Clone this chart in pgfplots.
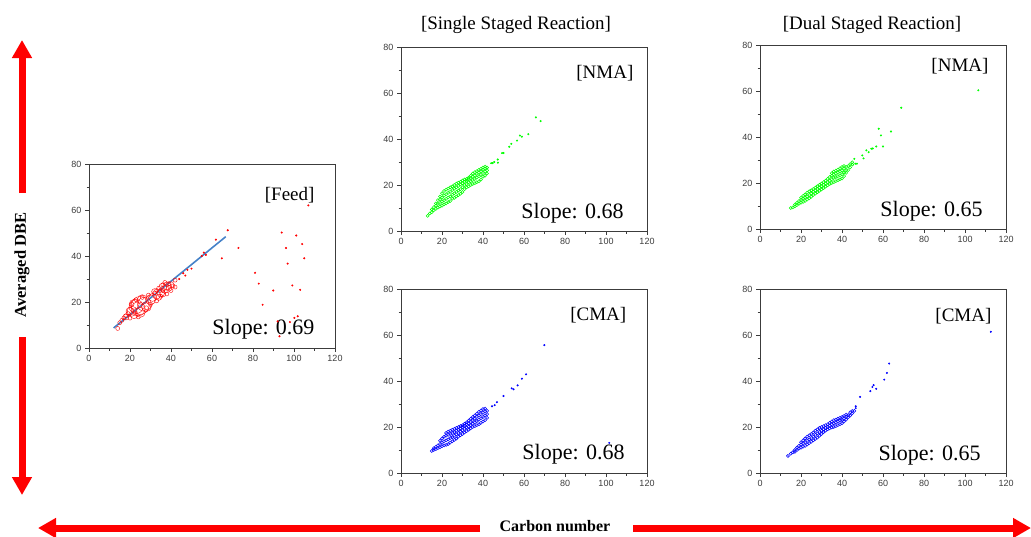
\documentclass[border=0pt]{standalone}
\usepackage{fontspec}
\setmainfont{Liberation Serif}
\newfontfamily\ticksf{Liberation Sans}
\usepackage{pgfplots}
\pgfplotsset{compat=1.18}
\usetikzlibrary{arrows.meta}

\definecolor{ngreen}{RGB}{0,255,0}
\definecolor{nblue}{RGB}{0,0,255}
\definecolor{fitblue}{RGB}{70,130,200}
\definecolor{axgray}{RGB}{60,60,60}

\pgfplotsset{
  panel/.style={
    width=246pt, height=184pt, scale only axis,
    xmin=0, xmax=120, ymin=0, ymax=80,
    xtick={0,20,...,120}, ytick={0,20,...,80},
    minor x tick num=1, minor y tick num=1,
    tick align=outside, xtick pos=left, ytick pos=left,
    major tick length=4pt, minor tick length=2.5pt,
    axis line style={axgray, line width=0.7pt},
    tick style={axgray, line width=0.5pt},
    ticklabel style={font=\ticksf\fontsize{9}{10}\selectfont, text=axgray},
    /pgf/number format/assume math mode=true,
  },
  band/.style={only marks, mark=o, mark size=1.5pt, mark options={line width=0.55pt}},
  tail/.style={only marks, mark=*, mark size=0.8pt},
  ring/.style={only marks, mark=o, red, mark size=#1, mark options={line width=0.4pt}},
}
\newcommand{\tag}[1]{{\fontsize{19}{20}\selectfont #1}}
\newcommand{\slope}[1]{{\fontsize{22}{24}\selectfont Slope: #1}}

\begin{document}
\begin{tikzpicture}
\useasboundingbox (0,0) rectangle (1031pt,-536pt);

% Feed
\begin{axis}[panel, at={(89pt,-348pt)}, anchor=south west]
\addplot[ring=9pt] coordinates {(25,18.5)};
\addplot[ring=7pt] coordinates {(23,18)(27,19)(24,17)};
\addplot[ring=5pt] coordinates {(21,16)(22,19)(26,21)(28,18)(30,21)(25,15.5)};
\addplot[ring=4pt] coordinates {(20,16)(22,14.5)(31,22)(33,23)(35,24)(37,25.5)(38,27)(36,26.5)};
\addplot[ring=3pt] coordinates {(34,22)(36,23.5)(39,26)(40,27.5)(32,24.5)(18,13.5)};
\addplot[ring=2pt]
  coordinates {(14,8.5)(15,11)(16,12)(17,13)(18,14)(19,15)(20,13)(21,19)(23,21)(24,13.5)(26,22)(28,17.5)
  (29,23)(30,19)(32,24)(33,20.5)(34,26)(35,22.5)(36,27.5)(38,23.5)(39,28)(40,25)(41,27)(42,26.5)(42,29.5)
  (37,28.5)(36,25)(33,25)};
\addplot[only marks, mark=*, mark size=0.8pt, red]
  coordinates {(44,30)(46,32.5)(47,31.5)(48,34)(50,34.5)(55,40)(56,41.5)(57,40.5)(61.9,47.1)(67.7,51.2)
  (72.9,43.5)(64.8,39)(81,32.7)(82.8,28)(84.7,18.8)(89.9,25)(94,50.2)(96.1,43.5)(96.9,36.7)(99.2,27.2)
  (101.1,48.9)(104,45.2)(105,39)(107,62)(103,25.3)(101.8,13.8)(100.2,13.1)(98,11.3)(92.9,5.1)(92,11.6)};
\addplot[fitblue, line width=1.6pt] coordinates {(12,8.7)(66.7,48.4)};
\node[anchor=north east] at (rel axis cs:0.931,0.89) {\tag{[Feed]}};
\node[anchor=base east] at (rel axis cs:0.931,0.071) {\slope{0.69}};
\end{axis}

% Single staged, NMA
\begin{axis}[panel, at={(401pt,-231pt)}, anchor=south west]
\addplot[band, ngreen] coordinates {
(13,6.6)(14,7.6)(15,8.2)(15,9.4)(16,9)(16,10.4)(17,9.6)(17,11)(17,12)(18,10.2)(18,11.8)(18,13.4)
(19,10.6)(19,12.2)(19,13.8)(19,15)(20,11)(20,12.8)(20,14.6)(20,16.4)(21,11.6)(21,13.4)(21,15.4)(21,17.4)
(22,12)(22,14)(22,16)(22,18)(23,12.6)(23,14.6)(23,16.6)(23,18.4)(24,13)(24,15)(24,17)(24,19)
(25,14)(25,15.8)(25,17.8)(25,19.4)(26,14.4)(26,16.4)(26,18.4)(26,20)(27,15)(27,17)(27,19)(27,20.6)
(28,15.6)(28,17.6)(28,19.6)(28,21)(29,16.2)(29,18.2)(29,20.2)(29,21.4)(30,17)(30,19)(30,20.8)(30,22)
(31,18.2)(31,20)(31,21.4)(31,22.4)(32,19)(32,20.4)(32,21.8)(32,22.6)(33,19.4)(33,21.2)(33,22.6)(33,23.2)
(34,20)(34,21.6)(34,23)(34,24)(35,20.4)(35,22.2)(35,23.6)(35,25)(36,20.8)(36,22.6)(36,24.2)(36,25.6)
(37,21.2)(37,23.2)(37,24.8)(37,26)(38,21.6)(38,23.8)(38,25.4)(38,26.6)(39,22.4)(39,24.4)(39,26)(39,27)
(40,23.6)(40,25.2)(40,26.6)(40,27.6)(41,24)(41,25.8)(41,27.2)(41,28)(42,25)(42,26.4)(42,27.6)};
\addplot[tail, ngreen] coordinates {(44,29.5)(44.7,29.5)(45.5,30)(47.2,31.1)(47.3,29.7)(49.3,33.9)(50,33.9)
(52.8,36.6)(53.8,37.9)(56.6,39.3)(58,41.5)(59,41)(62.1,42.1)(65.8,49.4)(68.1,47.8)};
\node[anchor=north east] at (rel axis cs:0.959,0.919) {\tag{[NMA]}};
\node[anchor=base east] at (rel axis cs:0.919,0.07) {\slope{0.68}};
\end{axis}

% Single staged, CMA
\begin{axis}[panel, at={(401pt,-473pt)}, anchor=south west]
\addplot[band, nblue] coordinates {
(15,9.6)(16,10)(16,10.8)(17,10.4)(17,11.4)(18,10.8)(18,12)(19,11.2)(19,12.6)(19,14)(20,11.6)(20,13.2)(20,15)
(21,12)(21,13.8)(21,15.8)(22,12.2)(22,14.2)(22,16.2)(22,17.4)(23,12.6)(23,14.6)(23,16.6)(23,18)
(24,13.2)(24,15.2)(24,17)(24,18.4)(25,13.8)(25,15.6)(25,17.4)(25,18.8)(26,14.4)(26,16.2)(26,17.8)(26,19.2)
(27,15)(27,16.8)(27,18.4)(27,19.6)(28,15.8)(28,17.4)(28,18.8)(28,20)(29,16.4)(29,18)(29,19.4)(29,20.4)
(30,17)(30,18.6)(30,20)(30,20.8)(31,17.6)(31,19.2)(31,20.6)(31,21.4)(32,18.2)(32,19.8)(32,21.2)(32,22)
(33,18.8)(33,20.2)(33,21.6)(33,22.8)(34,19.4)(34,20.8)(34,22.2)(34,23.6)(35,20)(35,21.4)(35,23)(35,24.4)
(36,20.4)(36,22)(36,23.6)(36,25)(37,20.8)(37,22.6)(37,24.4)(37,25.8)(38,21.2)(38,23.2)(38,25)(38,26.6)
(39,21.8)(39,23.8)(39,25.6)(39,27.2)(40,22.4)(40,24.4)(40,26.2)(40,27.8)(41,23)(41,25)(41,26.8)(41,28)
(42,24)(42,25.6)(42,27)};
\addplot[tail, nblue] coordinates {(44.4,29)(45.7,29.5)(46.8,30.8)(50,33.5)(54,36.8)(54.9,36.4)(56.9,38.1)
(59,41)(61,42.9)(69.9,55.6)(101.6,13.1)};
\node[anchor=north east] at (rel axis cs:0.93,0.918) {\tag{[CMA]}};
\node[anchor=base east] at (rel axis cs:0.923,0.071) {\slope{0.68}};
\end{axis}

% Dual staged, NMA
\begin{axis}[panel, at={(760pt,-229pt)}, anchor=south west]
\addplot[band, ngreen] coordinates {
(15,9.1)(16,9.4)(17,9.8)(17,10.6)(18,10.4)(18,11.4)(19,11)(19,12.2)(20,11.4)(20,12.6)(20,13.6)
(21,11.8)(21,13.2)(21,14.4)(22,12.2)(22,13.6)(22,15)(23,12.8)(23,14.2)(23,15.8)(24,13.4)(24,14.8)(24,16.4)
(25,14)(25,15.4)(25,16.8)(26,14.8)(26,16.2)(26,17.4)(27,15.4)(27,16.8)(27,18)(28,16)(28,17.4)(28,18.6)
(29,16.6)(29,18)(29,19.2)(30,17.2)(30,18.6)(30,19.8)(31,17.8)(31,19.2)(31,20.4)(32,18.4)(32,19.8)(32,21)
(33,19)(33,20.4)(33,21.8)(34,19.6)(34,21)(34,22.6)(35,20)(35,21.6)(35,23.2)(35,24.2)
(36,20.4)(36,22.2)(36,23.8)(36,25)(37,20.8)(37,22.6)(37,24.2)(37,25.4)(38,21.2)(38,23)(38,24.6)(38,25.8)
(39,21.6)(39,23.4)(39,25)(39,26.4)(40,22)(40,23.8)(40,25.4)(40,27)(41,23)(41,24.6)(41,26.2)(41,27.4)
(42,24.4)(42,25.6)(42,27)(43,25.6)(43,27.4)(44,26.8)(44,28.2)(45,28)(45,29)};
\addplot[tail, ngreen] coordinates {(46,30.5)(46.5,28.4)(47.3,28.4)(49.9,32)(50.5,30.7)(51.9,34.2)(53,33.4)
(54.3,34.9)(55,35)(56.7,35.9)(57.9,43.6)(59,40.7)(60,35.9)(63.9,42.4)(68.9,52.7)(106.5,60.3)};
\node[anchor=north east] at (rel axis cs:0.943,0.946) {\tag{[NMA]}};
\node[anchor=base east] at (rel axis cs:0.919,0.07) {\slope{0.65}};
\end{axis}

% Dual staged, CMA
\begin{axis}[panel, at={(760pt,-473pt)}, anchor=south west]
\addplot[band, nblue] coordinates {
(13.6,7.4)(15,8.4)(16,9)(17,9.2)(17,10)(18,10)(18,11)(19,10.6)(19,11.8)(20,11)(20,12.4)(20,13.4)
(21,11.4)(21,13)(21,14.2)(22,11.8)(22,13.4)(22,15)(23,12.4)(23,14)(23,15.8)(24,13)(24,14.6)(24,16.4)
(25,13.6)(25,15.2)(25,17)(26,14.2)(26,15.8)(26,17.6)(27,14.8)(27,16.6)(27,18.4)(28,15.4)(28,17.2)(28,19)
(29,16.2)(29,17.8)(29,19.6)(30,17)(30,18.4)(30,20)(31,17.8)(31,19)(31,20.4)(32,18.4)(32,19.6)(32,20.8)
(33,19)(33,20)(33,21.2)(34,19.4)(34,20.6)(34,21.8)(35,19.8)(35,21.2)(35,22.4)(36,20)(36,21.6)(36,23)
(37,20.4)(37,22)(37,23.2)(38,20.8)(38,22.4)(38,23.6)(39,21.2)(39,22.8)(39,24)(40,21.6)(40,23)(40,24.4)
(41,22.4)(41,23.6)(41,24.8)(42,23.2)(42,24.4)(42,25.4)(43,24.2)(43,25.2)(44,25)(44,26.4)(45,26)(45,27)(46,27)};
\addplot[tail, nblue] coordinates {(46.7,29)(46.7,28.2)(48.8,33.1)(53.8,35.6)(54.8,37.4)(55.4,38.2)(56.7,36.6)
(60.6,40.6)(61.9,43.5)(63,47.6)(112.6,61.4)};
\node[anchor=north east] at (rel axis cs:0.955,0.913) {\tag{[CMA]}};
\node[anchor=base east] at (rel axis cs:0.911,0.07) {\slope{0.65}};
\end{axis}

% titles
\node[anchor=base, font=\fontsize{19}{20}\selectfont] at (516pt,-29pt) {[Single Staged Reaction]};
\node[anchor=base, font=\fontsize{19}{20}\selectfont] at (872pt,-29pt) {[Dual Staged Reaction]};

% axis arrows
\draw[red, line width=7pt, -{Triangle[length=18pt,width=19pt]}] (22pt,-193pt) -- (22pt,-40pt);
\draw[red, line width=7pt, -{Triangle[length=18pt,width=19pt]}] (22pt,-337pt) -- (22pt,-495pt);
\node[rotate=90, font=\bfseries\fontsize{16.5}{18}\selectfont] at (22pt,-265pt) {Averaged DBE};
\draw[red, line width=7pt, -{Triangle[length=18pt,width=19pt]}] (480pt,-528pt) -- (38pt,-528pt);
\draw[red, line width=7pt, -{Triangle[length=18pt,width=19pt]}] (633pt,-528pt) -- (1031pt,-528pt);
\node[anchor=base, font=\bfseries\fontsize{16}{18}\selectfont] at (555pt,-531pt) {Carbon number};
\end{tikzpicture}
\end{document}
